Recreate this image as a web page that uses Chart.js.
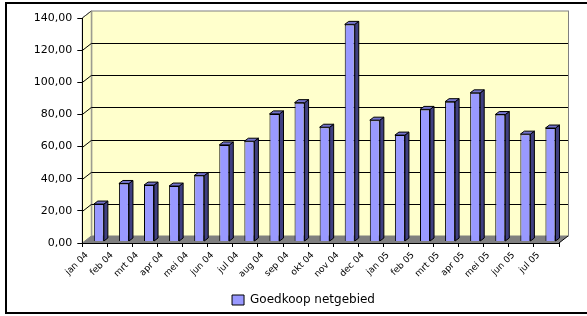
<!DOCTYPE html>
<html>
<head>
<meta charset="utf-8">
<script src="https://cdn.jsdelivr.net/npm/chart.js@4"></script>
<style>
    body { margin: 0; background: #fff; }
    #wrap { position: relative; width: 587px; height: 316px; overflow: hidden; }
    #frame { position: absolute; left: 5px; top: 2px; width: 600px; height: 308px;
             border: 2px solid #000; pointer-events: none; }
</style>
</head>
<body>
<div id="wrap">
    <canvas id="costChart" width="587" height="316"></canvas>
    <div id="frame"></div>
</div>
<script>
const months = ['jan 04', 'feb 04', 'mrt 04', 'apr 04', 'mei 04', 'jun 04', 'jul 04', 'aug 04', 'sep 04', 'okt 04',
    'nov 04', 'dec 04', 'jan 05', 'feb 05', 'mrt 05', 'apr 05', 'mei 05', 'jun 05', 'jul 05'];
const goedkoop = [23.3, 36.1, 35.1, 34.5, 41.0, 60.1, 62.4, 79.4, 86.4, 71.1,
    135.1, 75.5, 66.2, 82.2, 87.0, 92.5, 79.0, 66.8, 70.6];
const yTicks = [0, 20, 40, 60, 80, 100, 120, 140];

// depth of the walls and offset of the bars inside the box
const wallDx = 9, wallDy = -7;
const barDx = 4, barDy = -1.5;
const barDepth = 4, barRise = 3;

Chart.defaults.font.family = 'DejaVu Sans';
Chart.defaults.color = '#000';

const box3d = {
    id: 'box3d',
    afterLayout(chart) {
        // legend sits a bit right of the canvas centre
        chart.legend.left += 19;
        chart.legend.right += 19;
    },
    beforeDraw(chart) {
        const ctx = chart.ctx;
        const {left, right, top, bottom} = chart.chartArea;
        const y = chart.scales.y;
        ctx.save();
        ctx.lineWidth = 1;
        ctx.fillStyle = '#FFFFCC';
        ctx.strokeStyle = '#808080';
        // left wall
        ctx.beginPath();
        ctx.moveTo(left, top);
        ctx.lineTo(left + wallDx, top + wallDy);
        ctx.lineTo(left + wallDx, bottom + wallDy);
        ctx.lineTo(left, bottom);
        ctx.closePath();
        ctx.fill();
        ctx.stroke();
        // back wall
        ctx.fillRect(left + wallDx, top + wallDy, right - left, bottom - top);
        ctx.strokeRect(left + wallDx + 0.5, top + wallDy, right - left, bottom - top);
        // grid lines
        ctx.strokeStyle = '#000';
        yTicks.forEach((v) => {
            if (v === 0 || v === yTicks[yTicks.length - 1]) return;
            const py = Math.round(y.getPixelForValue(v)) + 0.5;
            ctx.beginPath();
            ctx.moveTo(left, py);
            ctx.lineTo(left + wallDx, py + wallDy);
            ctx.lineTo(right + wallDx, py + wallDy);
            ctx.stroke();
        });
        ctx.strokeStyle = '#404040';
        ctx.beginPath();
        ctx.moveTo(left, top);
        ctx.lineTo(left + wallDx, top + wallDy);
        ctx.stroke();
        // floor
        ctx.fillStyle = '#808080';
        ctx.beginPath();
        ctx.moveTo(left, bottom);
        ctx.lineTo(left + wallDx, bottom + wallDy);
        ctx.lineTo(right + wallDx, bottom + wallDy);
        ctx.lineTo(right, bottom);
        ctx.closePath();
        ctx.fill();
        ctx.strokeStyle = '#000';
        ctx.beginPath();
        ctx.moveTo(right, bottom);
        ctx.lineTo(right + wallDx, bottom + wallDy);
        ctx.stroke();
        ctx.restore();
    },
    beforeDatasetsDraw(chart) {
        chart.ctx.save();
        chart.ctx.translate(barDx, barDy);
    },
    afterDatasetsDraw(chart) {
        const ctx = chart.ctx;
        ctx.lineWidth = 1;
        ctx.strokeStyle = '#000';
        chart.getDatasetMeta(0).data.forEach((bar) => {
            const {x, y, base, width} = bar.getProps(['x', 'y', 'base', 'width'], true);
            const l = x - width / 2, r = x + width / 2;
            // side
            ctx.fillStyle = '#3F3F80';
            ctx.beginPath();
            ctx.moveTo(r, y);
            ctx.lineTo(r + barDepth, y - barRise);
            ctx.lineTo(r + barDepth, base - barRise);
            ctx.lineTo(r, base);
            ctx.closePath();
            ctx.fill();
            ctx.stroke();
            // top
            ctx.fillStyle = '#7373CC';
            ctx.beginPath();
            ctx.moveTo(l, y);
            ctx.lineTo(l + barDepth, y - barRise);
            ctx.lineTo(r + barDepth, y - barRise);
            ctx.lineTo(r, y);
            ctx.closePath();
            ctx.fill();
            ctx.stroke();
        });
        ctx.restore();
    }
};

new Chart(document.getElementById('costChart'), {
    type: 'bar',
    data: {
        labels: months,
        datasets: [{
            label: 'Goedkoop netgebied',
            data: goedkoop,
            backgroundColor: '#9999FF',
            borderColor: '#000',
            borderWidth: 1,
            barPercentage: 0.4,
            categoryPercentage: 1,
        }],
    },
    options: {
        responsive: false,
        animation: false,
        layout: {
            padding: {left: 10, right: 28, top: 18, bottom: 0},
        },
        plugins: {
            legend: {
                position: 'bottom',
                labels: {
                    font: {size: 12},
                    boxWidth: 12,
                    boxHeight: 10,
                    padding: 8,
                },
            },
            tooltip: {enabled: false},
        },
        scales: {
            x: {
                afterFit: (scale) => { scale.height = 43; },
                grid: {drawOnChartArea: false, tickLength: 4, color: '#000'},
                border: {display: true, color: '#000'},
                ticks: {
                    font: {size: 9},
                    maxRotation: 45,
                    minRotation: 45,
                    labelOffset: -8,
                    padding: 3,
                    autoSkip: false,
                },
            },
            y: {
                min: 0,
                max: 140,
                afterFit: (scale) => { scale.width = 72.3; },
                grid: {drawOnChartArea: false, tickLength: 5, color: '#000'},
                border: {display: true, color: '#000'},
                ticks: {
                    stepSize: 20,
                    padding: 5,
                    font: {size: 11},
                    callback: (v) => v.toFixed(2).replace('.', ','),
                },
            },
        },
    },
    plugins: [box3d],
});
</script>
</body>
</html>
